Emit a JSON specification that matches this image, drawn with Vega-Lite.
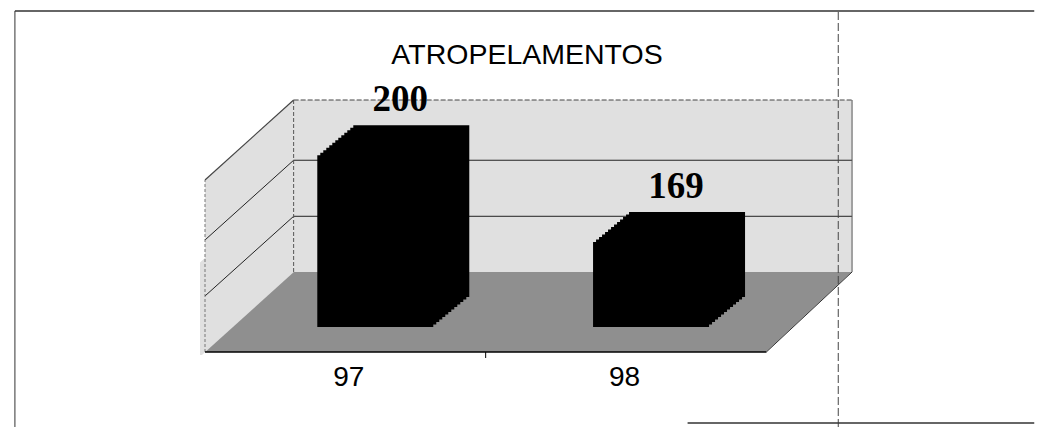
{
  "$schema": "https://vega.github.io/schema/vega-lite/v6.json",
  "autosize": {"type": "none"},
  "padding": {"left": 200, "top": 100, "right": 182, "bottom": 72},
  "width": 660,
  "height": 255,
  "background": "white",
  "config": {"view": {"stroke": null}},
  "title": {"text": "ATROPELAMENTOS", "font": "Liberation Sans", "fontSize": 28.5, "fontWeight": "normal", "color": "black", "anchor": "middle", "offset": -59, "dx": -3},
  "data": {"values": [{"year": 97, "value": 200}, {"year": 98, "value": 169}]},
  "encoding": {
    "x": {"type": "quantitative", "scale": {"domain": [96.4804, 98.8375], "nice": false, "zero": false},
      "axis": {"values": [97, 98], "format": "d", "labelFont": "Liberation Sans", "labelFontSize": 28, "labelColor": "black", "ticks": false, "domain": false, "grid": false, "title": null, "labelPadding": 8}},
    "y": {"type": "quantitative", "scale": {"domain": [118, 209], "nice": false, "zero": false}, "axis": null}
  },
  "layer": [
    {"data": {"values": [{}]}, "mark": {"type": "rect", "color": "#e0e0e0"},
      "encoding": {"x": {"datum": 96.8018}, "x2": {"datum": 98.8268}, "y": {"datum": 147.62}, "y2": {"datum": 209}}},
    {"data": {"values": [{}]}, "mark": {"type": "rect", "color": "#e0e0e0"},
      "encoding": {"x": {"datum": 96.4804}, "x2": {"datum": 96.8018}, "y": {"datum": 119.07}, "y2": {"datum": 209}}},
    {"data": {"values": [{}]}, "mark": {"type": "rect", "color": "#8f8f8f"},
      "encoding": {"x": {"datum": 96.4804}, "x2": {"datum": 98.8268}, "y": {"datum": 119.07}, "y2": {"datum": 147.62}}},
    {"data": {"values": [{}]}, "mark": {"type": "rule", "color": "white", "strokeWidth": 70, "strokeCap": "butt", "clip": true},
      "encoding": {"x": {"datum": 96.3171}, "y": {"datum": 182.70}, "x2": {"datum": 96.7986}, "y2": {"datum": 225.45}}},
    {"data": {"values": [{}]}, "mark": {"type": "rule", "color": "#e0e0e0", "strokeWidth": 70, "strokeCap": "butt", "clip": true},
      "encoding": {"x": {"datum": 96.3171}, "y": {"datum": 121.32}, "x2": {"datum": 96.7186}, "y2": {"datum": 156.97}}},
    {"data": {"values": [{}]}, "mark": {"type": "rule", "color": "white", "strokeWidth": 70, "strokeCap": "butt", "clip": true},
      "encoding": {"x": {"datum": 98.5218}, "y": {"datum": 102.62}, "x2": {"datum": 98.9904}, "y2": {"datum": 145.66}}},
    {"data": {"values": [{}]}, "mark": {"type": "rule", "color": "#222", "strokeWidth": 1},
      "encoding": {"x": {"datum": 96.8018}, "x2": {"datum": 98.8268}, "y": {"datum": 187.5}}},
    {"data": {"values": [{}]}, "mark": {"type": "rule", "color": "#222", "strokeWidth": 1},
      "encoding": {"x": {"datum": 96.8018}, "x2": {"datum": 98.8268}, "y": {"datum": 167.5}}},
    {"data": {"values": [{}]}, "mark": {"type": "rule", "color": "#222", "strokeWidth": 1},
      "encoding": {"x": {"datum": 96.4804}, "y": {"datum": 159.04}, "x2": {"datum": 96.8018}, "y2": {"datum": 187.5}}},
    {"data": {"values": [{}]}, "mark": {"type": "rule", "color": "#222", "strokeWidth": 1},
      "encoding": {"x": {"datum": 96.4804}, "y": {"datum": 139.06}, "x2": {"datum": 96.8018}, "y2": {"datum": 167.5}}},
    {"data": {"values": [{}]}, "mark": {"type": "rule", "color": "#444", "strokeWidth": 1.2},
      "encoding": {"x": {"datum": 96.4804}, "y": {"datum": 180.45}, "x2": {"datum": 96.8018}, "y2": {"datum": 209}}},
    {"data": {"values": [{}]}, "mark": {"type": "rule", "color": "#444", "strokeWidth": 1.2, "strokeDash": [5, 2]},
      "encoding": {"x": {"datum": 96.8018}, "x2": {"datum": 98.8268}, "y": {"datum": 209}}},
    {"data": {"values": [{}]}, "mark": {"type": "rule", "color": "#555", "strokeWidth": 1, "strokeDash": [4, 2]},
      "encoding": {"x": {"datum": 96.8018}, "y": {"datum": 147.62}, "y2": {"datum": 209}}},
    {"data": {"values": [{}]}, "mark": {"type": "rule", "color": "#555", "strokeWidth": 1},
      "encoding": {"x": {"datum": 98.8268}, "y": {"datum": 147.62}, "y2": {"datum": 209}}},
    {"data": {"values": [{}]}, "mark": {"type": "rule", "color": "#777", "strokeWidth": 1, "strokeDash": [3, 2]},
      "encoding": {"x": {"datum": 96.4804}, "y": {"datum": 119.07}, "y2": {"datum": 180.45}}},
    {"data": {"values": [{}]}, "mark": {"type": "rule", "color": "#333", "strokeWidth": 1},
      "encoding": {"x": {"datum": 98.5161}, "y": {"datum": 119.07}, "x2": {"datum": 98.8268}, "y2": {"datum": 147.62}}},
    {"data": {"values": [{}]}, "mark": {"type": "rule", "color": "black", "strokeWidth": 1.5},
      "encoding": {"x": {"datum": 96.4804}, "x2": {"datum": 98.5161}, "y": {"datum": 119.07}}},
    {"data": {"values": [{}]}, "mark": {"type": "rule", "color": "black", "strokeWidth": 1},
      "encoding": {"x": {"datum": 97.4982}, "y": {"datum": 116.93}, "y2": {"datum": 119.07}}},
    {"mark": {"type": "bar", "orient": "vertical", "color": "black", "width": 116, "xOffset": 27, "yOffset": 30, "y2Offset": 30},
      "encoding": {"x": {"field": "year"}, "y": {"field": "value"}, "y2": {"datum": 138.70}}},
    {"mark": {"type": "bar", "orient": "vertical", "color": "black", "width": 116, "xOffset": 30, "yOffset": 27.5, "y2Offset": 27.5},
      "encoding": {"x": {"field": "year"}, "y": {"field": "value"}, "y2": {"datum": 138.70}}},
    {"mark": {"type": "bar", "orient": "vertical", "color": "black", "width": 116, "xOffset": 33, "yOffset": 25, "y2Offset": 25},
      "encoding": {"x": {"field": "year"}, "y": {"field": "value"}, "y2": {"datum": 138.70}}},
    {"mark": {"type": "bar", "orient": "vertical", "color": "black", "width": 116, "xOffset": 36, "yOffset": 22.5, "y2Offset": 22.5},
      "encoding": {"x": {"field": "year"}, "y": {"field": "value"}, "y2": {"datum": 138.70}}},
    {"mark": {"type": "bar", "orient": "vertical", "color": "black", "width": 116, "xOffset": 39, "yOffset": 20, "y2Offset": 20},
      "encoding": {"x": {"field": "year"}, "y": {"field": "value"}, "y2": {"datum": 138.70}}},
    {"mark": {"type": "bar", "orient": "vertical", "color": "black", "width": 116, "xOffset": 42, "yOffset": 17.5, "y2Offset": 17.5},
      "encoding": {"x": {"field": "year"}, "y": {"field": "value"}, "y2": {"datum": 138.70}}},
    {"mark": {"type": "bar", "orient": "vertical", "color": "black", "width": 116, "xOffset": 45, "yOffset": 15, "y2Offset": 15},
      "encoding": {"x": {"field": "year"}, "y": {"field": "value"}, "y2": {"datum": 138.70}}},
    {"mark": {"type": "bar", "orient": "vertical", "color": "black", "width": 116, "xOffset": 48, "yOffset": 12.5, "y2Offset": 12.5},
      "encoding": {"x": {"field": "year"}, "y": {"field": "value"}, "y2": {"datum": 138.70}}},
    {"mark": {"type": "bar", "orient": "vertical", "color": "black", "width": 116, "xOffset": 51, "yOffset": 10, "y2Offset": 10},
      "encoding": {"x": {"field": "year"}, "y": {"field": "value"}, "y2": {"datum": 138.70}}},
    {"mark": {"type": "bar", "orient": "vertical", "color": "black", "width": 116, "xOffset": 54, "yOffset": 7.5, "y2Offset": 7.5},
      "encoding": {"x": {"field": "year"}, "y": {"field": "value"}, "y2": {"datum": 138.70}}},
    {"mark": {"type": "bar", "orient": "vertical", "color": "black", "width": 116, "xOffset": 57, "yOffset": 5, "y2Offset": 5},
      "encoding": {"x": {"field": "year"}, "y": {"field": "value"}, "y2": {"datum": 138.70}}},
    {"mark": {"type": "bar", "orient": "vertical", "color": "black", "width": 116, "xOffset": 60, "yOffset": 2.5, "y2Offset": 2.5},
      "encoding": {"x": {"field": "year"}, "y": {"field": "value"}, "y2": {"datum": 138.70}}},
    {"mark": {"type": "bar", "orient": "vertical", "color": "black", "width": 116, "xOffset": 63, "yOffset": 0, "y2Offset": 0},
      "encoding": {"x": {"field": "year"}, "y": {"field": "value"}, "y2": {"datum": 138.70}}},
    {"mark": {"type": "text", "font": "Liberation Serif", "fontWeight": "bold", "fontSize": 37, "color": "black", "align": "center", "baseline": "alphabetic", "dx": 52, "dy": -14},
      "encoding": {"x": {"field": "year"}, "y": {"field": "value"}, "text": {"field": "value", "type": "quantitative"}}},
    {"data": {"values": [{}]}, "mark": {"type": "rule", "color": "#333", "strokeWidth": 1.5},
      "encoding": {"x": {"datum": 95.7911}, "x2": {"datum": 99.4875}, "y": {"datum": 240.76}}},
    {"data": {"values": [{}]}, "mark": {"type": "rule", "color": "#333", "strokeWidth": 1},
      "encoding": {"x": {"datum": 95.7911}, "y": {"datum": 92.31}, "y2": {"datum": 240.76}}},
    {"data": {"values": [{}]}, "mark": {"type": "rule", "color": "#444", "strokeWidth": 1, "strokeDash": [8, 3]},
      "encoding": {"x": {"datum": 98.7768}, "y": {"datum": 92.31}, "y2": {"datum": 240.76}}},
    {"data": {"values": [{}]}, "mark": {"type": "rule", "color": "#333", "strokeWidth": 1.5},
      "encoding": {"x": {"datum": 98.2304}, "x2": {"datum": 99.4875}, "y": {"datum": 93.73}}}
  ]
}
